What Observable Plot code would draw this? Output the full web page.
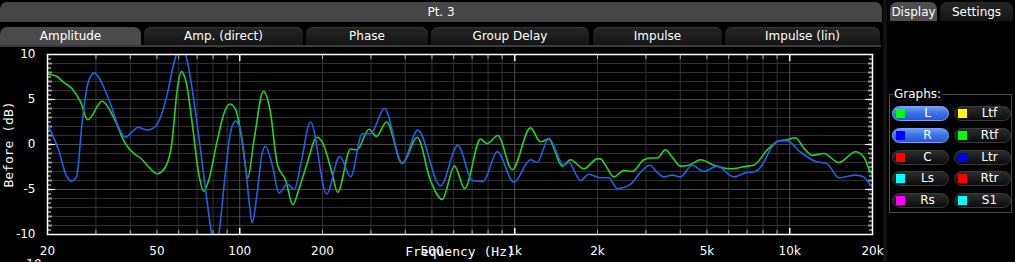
<!DOCTYPE html>
<html>
<head>
<meta charset="utf-8">
<script src="https://cdn.jsdelivr.net/npm/d3@7"></script>
<script src="https://cdn.jsdelivr.net/npm/@observablehq/plot@0.6"></script>
<style>
  html, body { margin: 0; padding: 0; background: #000; }
  body { width: 1015px; height: 262px; overflow: hidden; position: relative; font-family: "DejaVu Sans", sans-serif; color: #fff; }
  .abs { position: absolute; }
  .bar { left: 0; top: 2px; width: 882px; height: 20px; background: #464646; border-radius: 7px 7px 0 0; text-align: center; font-size: 12px; line-height: 20px; }
  .tab { top: 27px; height: 18px; background: linear-gradient(#262626, #141414); border-radius: 7px 7px 0 0; text-align: center; font-size: 12px; line-height: 19px; box-shadow: inset 0 1px 0 #333; }
  .tab.active { background: #4a4a4a; box-shadow: none; }
  .strip { left: 0; top: 45px; width: 881px; height: 2px; background: #3c3c3c; }
  .sep { left: 883px; top: 0; width: 4px; height: 262px; background: #111; }
  .ptab { top: 2px; height: 19px; border-radius: 7px 7px 0 0; font-size: 12px; line-height: 20px; text-align: center; }
  .fieldset { left: 889px; top: 94px; width: 121px; height: 117px; border: 1px solid #4a4a4a; }
  .legend { left: 893px; top: 87px; font-size: 12px; background: #000; padding: 0 1px; line-height: 14px; }
  .btn { width: 55px; height: 13px; border-radius: 8px; border: 1px solid #3a3a3a; background: linear-gradient(#2c2c2c, #0c0c0c); font-size: 12px; line-height: 13px; }
  .btn.on { background: linear-gradient(#6f9cf5 0%, #3f74e8 45%, #2456d6 100%); border-color: #7aa5f7; }
  .btn .sq { position: absolute; left: 3px; top: 2px; width: 9px; height: 9px; }
  .btn .lb { position: absolute; left: 14px; right: 0; top: 0; text-align: center; }
  #chart { left: 0; top: 45px; }
</style>
</head>
<body>
<div id="ui"></div>
<div id="chart" class="abs"></div>
<script>
// ---- data ----
const freqL = [20, 21.5, 22.9, 24.6, 26.4, 28.0, 31.6, 34.8, 38.4, 41.2, 43.6, 46.7, 50.1, 53.7, 56.8, 59.2, 61.4, 64.1, 67.2, 71.0, 74.0, 77.1, 82.8, 87.5, 92.0, 96.6, 102, 107, 112.6, 122, 129, 137, 147, 156, 164, 175, 191, 200, 216, 227, 253, 267, 295, 314, 342, 390, 442, 494, 545, 604, 658, 751, 794, 868, 979, 1141, 1241, 1330, 1488, 1595, 1784, 1995, 2050, 2138, 2292, 2492, 2674, 2948, 3118, 3298, 3534, 3738, 4006, 4296, 4738, 5296, 6090, 7006, 7404, 8282, 9126, 9652, 10496, 11252, 12072, 13304, 15088, 17350, 18598, 19554, 20000];
const dbL   = [7.8, 7.6, 6.9, 6.2, 4.7, 2.75, 4.8, 3.0, 0.1, -1.0, -1.5, -2.5, -3.25, -2.5, 0.4, 6.0, 8.1, 6.7, 2.3, -3.3, -5.2, -4.0, 0.4, 3.4, 4.5, 3.9, 0.4, -3.7, 0.4, 5.9, 3.8, -2.2, -4.0, -6.7, -5.0, -2.3, 0.8, 0.2, -3.0, -5.3, -0.5, -0.6, 1.7, 0.9, 2.5, -2.1, 0.8, -4.0, -6.1, -2.4, -4.9, 0.6, 0.1, 1.0, -2.8, 1.85, 0.3, 0.6, -2.4, -1.7, -2.7, -1.6, -1.6, -2.3, -3.6, -2.9, -3.0, -1.7, -1.5, -1.5, -0.6, -1.4, -2.4, -2.3, -1.7, -2.3, -2.7, -2.4, -2.3, -0.6, 0.4, 0.5, 0.75, -0.4, -1.2, -1.0, -2.0, -0.8, -1.4, -2.9, -3.3];
const freqR = [20, 22.0, 23.3, 24.4, 25.5, 26.7, 28.0, 29.6, 31.2, 33.9, 36.3, 38.4, 40.6, 42.7, 46.1, 48.7, 51.5, 54.5, 57.6, 61.4, 64.4, 70, 75.2, 79, 81.2, 84, 88.6, 92.4, 96.6, 100.6, 105, 108.8, 111, 116, 120.6, 124, 131, 139, 149, 158, 166, 181, 207, 231, 253, 279, 299, 336, 390, 444, 537, 621, 701, 768, 864, 992, 1141, 1207, 1330, 1508, 1572, 1735, 1860, 2050, 2198, 2358, 2636, 2866, 3100, 3298, 3484, 3738, 4006, 4420, 4870, 5450, 6260, 6906, 7508, 8048, 8514, 9126, 9790, 10946, 12234, 13688, 15088, 17350, 18598, 19554, 20000];
const dbR   = [2.2, -0.7, -3.3, -4.07, -3.6, 2.3, 6.7, 7.96, 7.1, 4.5, 1.9, 0.8, 1.4, 1.9, 1.6, 1.85, 3.0, 5.6, 9.0, 11.2, 9.3, 2.3, -5.1, -9.9, -12, -9.9, -3.3, 1.2, 2.6, 1.6, -2.5, -7.0, -8.7, -5.1, -1.0, -0.2, -2.15, -5.4, -4.4, -5.0, -2.5, 2.5, -5.5, -1.3, -3.6, 1.2, 1.2, 4.0, -2.1, 1.6, -4.6, -0.1, -4.0, -4.1, -0.8, -4.2, -1.7, -2.0, 0.7, -2.3, -2.0, -4.0, -3.3, -3.7, -3.7, -4.9, -4.4, -3.1, -2.3, -3.1, -3.6, -3.4, -3.6, -2.3, -3.0, -2.4, -3.6, -3.15, -3.0, -2.0, -0.5, 0.4, 0.4, -0.85, -1.8, -2.15, -3.7, -3.4, -3.6, -4.4, -4.7];

const xTickValues = [20, 50, 100, 200, 500, 1000, 2000, 5000, 10000, 20000];
const xTickLabels = ["20", "50", "100", "200", "500", "1k", "2k", "5k", "10k", "20k"];
const yTickValues = [10, 5, 0, -5, -10];
const yTickLabels = ["10", "5", "0", "-5", "-10"];
const xMinorGrid = [30, 40, 50, 60, 70, 80, 90, 200, 300, 400, 500, 600, 700, 800, 900, 2000, 3000, 4000, 5000, 6000, 7000, 8000, 9000];
const xDecadeGrid = [100, 1000, 10000];
const yMajorGrid = [-5, 0, 5];
const yMinorGrid = d3.range(-9, 10).filter(v => v % 5 !== 0);
const yHalfTicks = d3.range(-9.5, 10, 1);
const yWholeTicks = d3.range(-9, 10);

const title = "Pt. 3";
const tabNames = ["Amplitude", "Amp. (direct)", "Phase", "Group Delay", "Impulse", "Impulse (lin)"];
const tabLefts = [0, 144, 306, 431, 593, 725];
const tabRights = [141, 303, 428, 589, 722, 880];
const panelTabs = ["Display", "Settings"];
const graphNames = ["L", "R", "C", "Ls", "Rs", "Ltf", "Rtf", "Ltr", "Rtr", "S1"];
const graphColors = ["#00ff00", "#0000ff", "#ff0000", "#00ffff", "#ff00ff", "#ffff00", "#00ff00", "#0000ff", "#ff0000", "#00ffff"];
const graphActive = ["L", "R"];

const xLabel = "Frequency (Hz)";
const yLabel = "Before (dB)";
const green = "#22d422";
const blue = "#2060e6";

// ---- UI chrome ----
const ui = document.getElementById("ui");
function add(html) { ui.insertAdjacentHTML("beforeend", html); }
add(`<div class="abs bar">${title}</div>`);
tabNames.forEach((t, i) => {
  add(`<div class="abs tab${i === 0 ? " active" : ""}" style="left:${tabLefts[i]}px;width:${tabRights[i] - tabLefts[i]}px">${t}</div>`);
});
add(`<div class="abs strip"></div>`);
add(`<div class="abs sep"></div>`);
add(`<div class="abs ptab" style="left:890px;width:47px;background:#4e4e4e">${panelTabs[0]}</div>`);
add(`<div class="abs ptab" style="left:940px;width:73px;background:linear-gradient(#262626,#141414)">${panelTabs[1]}</div>`);
add(`<div class="abs fieldset"></div>`);
add(`<div class="abs legend">Graphs:</div>`);
const rowTops = [106, 128, 150, 171, 193];
graphNames.forEach((g, i) => {
  const col = Math.floor(i / 5), row = i % 5;
  const left = col === 0 ? 892 : 954;
  add(`<div class="abs btn${graphActive.includes(g) ? " on" : ""}" style="left:${left}px;top:${rowTops[row]}px"><div class="sq" style="background:${graphColors[i]}"></div><div class="lb">${g}</div></div>`);
});
add(`<div class="abs" style="left:22px;top:257px;font-size:12px;line-height:14px">-10</div>`);

// ---- chart ----
const L = freqL.map((f, i) => ({f, db: dbL[i]}));
const R = freqR.map((f, i) => ({f, db: dbR[i]}));
const xTicks = xTickValues.map((v, i) => ({v, label: xTickLabels[i]}));
const yTicks = yTickValues.map((v, i) => ({v, label: yTickLabels[i]}));
const mono = "DejaVu Sans Mono, monospace";
const blank = () => "";

const chart = Plot.plot({
  width: 884,
  height: 217,
  marginLeft: 47,
  marginRight: 12,
  marginTop: 9,
  marginBottom: 28,
  style: {background: "transparent", color: "white", fontFamily: "DejaVu Sans, sans-serif", fontSize: "12px"},
  x: {type: "log", domain: [20, 20000]},
  y: {domain: [-10, 10]},
  marks: [
    Plot.ruleY(yMinorGrid, {stroke: "#2e2e2e"}),
    Plot.ruleY(yMajorGrid, {stroke: "#4a4a4a"}),
    Plot.ruleX(xMinorGrid, {stroke: "#333"}),
    Plot.ruleX(xDecadeGrid, {stroke: "#4e4e4e"}),
    Plot.axisX({anchor: "top", ticks: xMinorGrid, tickSize: -4, stroke: "#aaa", tickFormat: blank, label: null}),
    Plot.axisX({anchor: "bottom", ticks: xMinorGrid, tickSize: -4, stroke: "#aaa", tickFormat: blank, label: null}),
    Plot.axisX({anchor: "top", ticks: xDecadeGrid, tickSize: -6, stroke: "white", strokeWidth: 1.5, tickFormat: blank, label: null}),
    Plot.axisX({anchor: "bottom", ticks: xDecadeGrid, tickSize: -6, stroke: "white", strokeWidth: 1.5, tickFormat: blank, label: null}),
    Plot.axisY({anchor: "left", ticks: yWholeTicks, tickSize: -5, stroke: "#999", strokeWidth: 2, tickFormat: blank, label: null}),
    Plot.axisY({anchor: "right", ticks: yWholeTicks, tickSize: -5, stroke: "#999", strokeWidth: 2, tickFormat: blank, label: null}),
    Plot.axisY({anchor: "left", ticks: yHalfTicks, tickSize: -4, stroke: "white", tickFormat: blank, label: null}),
    Plot.axisY({anchor: "right", ticks: yHalfTicks, tickSize: -4, stroke: "white", tickFormat: blank, label: null}),
    Plot.axisY({anchor: "left", ticks: yMajorGrid, tickSize: -8, stroke: "white", tickFormat: blank, label: null}),
    Plot.axisY({anchor: "right", ticks: yMajorGrid, tickSize: -8, stroke: "white", tickFormat: blank, label: null}),
    Plot.line(L, {x: "f", y: "db", stroke: green, strokeWidth: 1.6, curve: "monotone-x", clip: true}),
    Plot.line(R, {x: "f", y: "db", stroke: blue, strokeWidth: 1.6, curve: "monotone-x", clip: true}),
    Plot.frame({stroke: "white", strokeWidth: 1.5}),
    Plot.text(xTicks, {x: "v", text: "label", frameAnchor: "bottom", dy: 17, lineAnchor: "middle", textAnchor: "middle", fill: "white", fontSize: 12}),
    Plot.text(yTicks, {y: "v", text: "label", frameAnchor: "left", dx: -12, lineAnchor: "middle", textAnchor: "end", fill: "white", fontSize: 12}),
    Plot.text([xLabel], {frameAnchor: "bottom", dy: 17, lineAnchor: "middle", textAnchor: "middle", fill: "white", fontFamily: mono, fontSize: 13}),
    Plot.text([yLabel], {frameAnchor: "left", dx: -39, rotate: -90, lineAnchor: "middle", textAnchor: "middle", fill: "white", fontFamily: mono, fontSize: 13})
  ]
});
document.getElementById("chart").appendChild(chart);
</script>
</body>
</html>
